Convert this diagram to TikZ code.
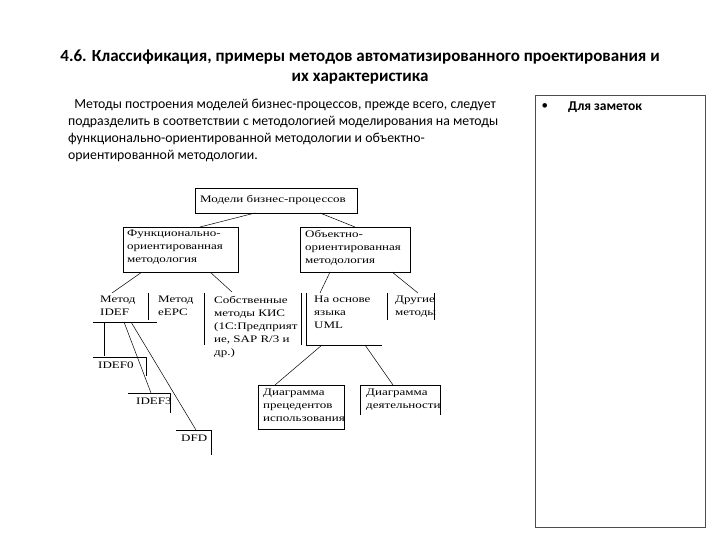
\documentclass[tikz,border=0pt]{standalone}
\usepackage{fontspec}
\setmainfont{Carlito}
\newfontfamily\serf[FakeStretch=1.3]{Liberation Serif}
\begin{document}
\begin{tikzpicture}[x=1pt,y=-1pt,
 lbl/.style={font=\serf\fontsize{10}{13}\selectfont,align=left,anchor=north west,inner sep=0pt},
 bx/.style={draw,line width=0.6pt},
 ln/.style={line width=0.5pt}]
\useasboundingbox (0,0) rectangle (720,540);
\node[font=\bfseries\fontsize{17}{20}\selectfont,align=center] (title) at (360,67) {4.6. Классификация, примеры методов автоматизированного проектирования и\\их характеристика};
\node[font=\fontsize{13.8}{17}\selectfont,align=left,anchor=north west,inner sep=0pt] (para) at (68,99) {\ \ Методы построения моделей бизнес-процессов, прежде всего, следует\\подразделить в соответствии с методологией моделирования на методы\\функционально-ориентированной методологии и объектно-\\ориентированной методологии.};
\draw[draw={rgb,255:red,60;green,80;blue,110},line width=0.6pt] (535,95) rectangle (705,527);
\node[font=\fontsize{13}{15}\selectfont,anchor=west] (bul) at (538,107) {•};
\node[font=\bfseries\fontsize{13.5}{15}\selectfont,anchor=west,inner sep=0pt] (notes) at (568,107) {Для заметок};
% diagram
\draw[bx] (195,188) rectangle (357,213);
\node[lbl,anchor=west] (top) at (200,200) {Модели бизнес-процессов};
\draw[bx] (123,227) rectangle (238,272);
\node[lbl] (fun) at (127,230) {Функционально-\\ориентированная\\методология};
\draw[bx] (300,227) rectangle (410,272);
\node[lbl] (obj) at (305,230) {Объектно-\\ориентированная\\методология};
\draw[ln] (255,213) -- (200,227);
\draw[ln] (320,213) -- (355,227);
% row 2
\node[lbl] (idef) at (100,296) {Метод\\IDEF};
\draw[ln] (93,322) -- (157,322);
\draw[ln] (148,293) -- (148,320);
\node[lbl] (epc) at (158,296) {Метод\\eEPC};
\draw[ln] (204,293) -- (204,345);
\node[lbl] (own) at (214,296) {Собственные\\методы КИС\\(1С:Предприят\\ие, SAP R/3 и\\др.)};
\draw[ln] (301,293) -- (301,345);
\draw[ln] (306,293) -- (306,345) -- (382,345);
\node[lbl] (uml) at (314,296) {На основе\\языка\\ UML};
\draw[ln] (387,293) -- (387,320);
\node[lbl] (oth) at (395,296) {Другие\\методы};
\draw[ln] (434,293) -- (434,320);
\draw[ln] (142,272) -- (112,293);
\draw[ln] (210,272) -- (232,292);
\draw[ln] (330,272) -- (320,293);
\draw[ln] (392,272) -- (418,293);
% IDEF children
\draw[ln] (104,322) -- (104,356);
\draw[ln] (93,357) -- (146,357) -- (146,376);
\node[lbl] (i0) at (98,362) {IDEF0};
\draw[ln] (124,322) -- (151,393);
\draw[ln] (128,393) -- (170,393) -- (170,413);
\node[lbl] (i3) at (136,398) {IDEF3};
\draw[ln] (131,322) -- (196,430);
\draw[ln] (176,430) -- (211,430) -- (211,455);
\node[lbl] (dfd) at (181,435) {DFD};
% UML children
\draw[ln] (322,345) -- (275,385);
\draw[ln] (365,345) -- (393,385);
\draw[bx] (258,385) rectangle (344,429);
\node[lbl] (d1) at (263,389) {Диаграмма\\прецедентов\\использования};
\draw[ln] (360,415) -- (360,385) -- (440,385) -- (440,415);
\node[lbl] (d2) at (366,389) {Диаграмма\\деятельности};
\end{tikzpicture}
\end{document}
